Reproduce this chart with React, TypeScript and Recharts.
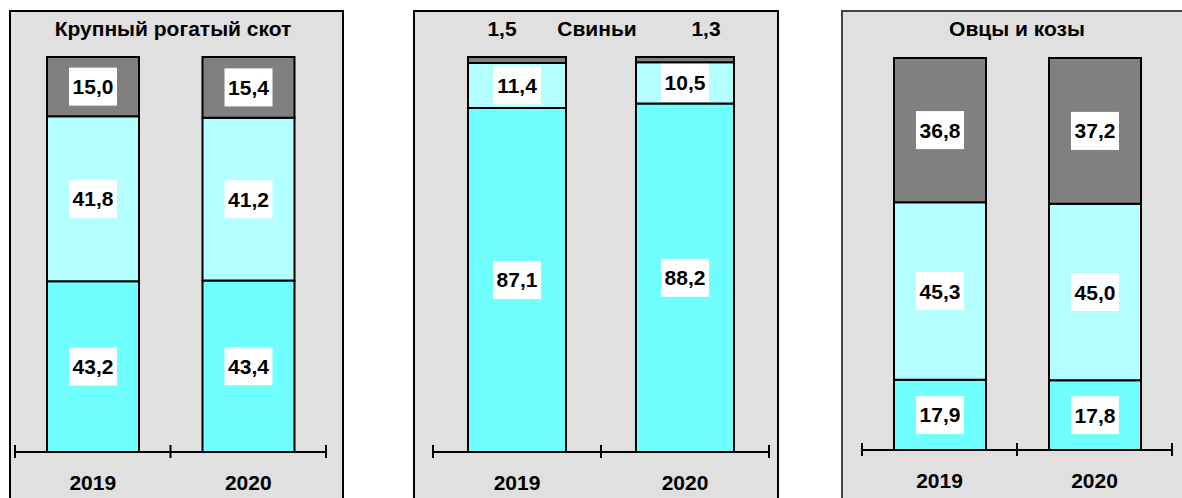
import React from "react";
import { Bar, BarChart, LabelList, XAxis, YAxis } from "recharts";

const years = ["2019", "2020"];

// Крупный рогатый скот
const cattleBottom = [43.2, 43.4];
const cattleMiddle = [41.8, 41.2];
const cattleTop = [15.0, 15.4];

// Свиньи
const pigsBottom = [87.1, 88.2];
const pigsMiddle = [11.4, 10.5];
const pigsTop = [1.5, 1.3];

// Овцы и козы
const sheepBottom = [17.9, 17.8];
const sheepMiddle = [45.3, 45.0];
const sheepTop = [36.8, 37.2];

const FONT = "Arial, 'Liberation Sans', sans-serif";
const FS = 21;
const BG = "#e0e0e0";
const C_BOTTOM = "#70ffff";
const C_MIDDLE = "#b3ffff";
const C_TOP = "#808080";

const fmt = (v: number) => v.toFixed(1).replace(".", ",");

const build = (a: number[], b: number[], c: number[]) =>
  years.map((year, i) => ({ year, bottom: a[i], middle: b[i], top: c[i] }));

const BoxLabel = (props: any) => {
  const { x, y, width, height, value } = props;
  const cx = Number(x) + Number(width) / 2;
  const cy = Number(y) + Number(height) / 2;
  return (
    <g>
      <rect x={cx - 24} y={cy - 19} width={48} height={38} fill="#ffffff" />
      <text
        x={cx}
        y={cy + 7.5}
        textAnchor="middle"
        fontFamily={FONT}
        fontWeight="bold"
        fontSize={FS}
        fill="#000"
      >
        {fmt(value)}
      </text>
    </g>
  );
};

// small top values of the pigs chart sit in the title row
const shifts = [-15, 21];
const TopRowLabel = (props: any) => {
  const { x, width, value, index } = props;
  const cx = Number(x) + Number(width) / 2 + shifts[index];
  return (
    <text
      x={cx}
      y={26}
      textAnchor="middle"
      fontFamily={FONT}
      fontWeight="bold"
      fontSize={FS}
      fill="#000"
    >
      {fmt(value)}
    </text>
  );
};

const makeTick = (half: number) => (props: any) => {
  const { x, y, payload, index } = props;
  const off = payload && payload.offset ? payload.offset : half;
  return (
    <g>
      {index === 0 && (
        <line x1={x - off} x2={x - off} y1={y - 7} y2={y + 6} stroke="#000" strokeWidth={2} />
      )}
      <line x1={x + off} x2={x + off} y1={y - 7} y2={y + 6} stroke="#000" strokeWidth={2} />
      <text
        x={x}
        y={y + 38}
        textAnchor="middle"
        fontFamily={FONT}
        fontWeight="bold"
        fontSize={FS}
        fill="#000"
      >
        {payload.value}
      </text>
    </g>
  );
};

interface PanelProps {
  title: string;
  data: { year: string; bottom: number; middle: number; top: number }[];
  left: number;
  width: number;
  margin: { top: number; right: number; left: number; bottom: number };
  barSize: number;
  border: string;
  rightBorder: boolean;
  titleCenter: number;
  topInTitle?: boolean;
}

const H = 488;

const Panel: React.FC<PanelProps> = (p) => {
  const plotW = p.width - p.margin.left - p.margin.right;
  return (
    <>
      <div
        style={{
          position: "absolute",
          left: p.left,
          top: 10,
          width: p.width,
          height: H + 10,
          boxSizing: "border-box",
          background: BG,
          borderTop: `2px solid ${p.border}`,
          borderLeft: `2px solid ${p.border}`,
          borderRight: p.rightBorder ? `2px solid ${p.border}` : "none",
        }}
      />
      <div
        style={{
          position: "absolute",
          left: p.titleCenter - 150,
          width: 300,
          top: 16,
          textAlign: "center",
          fontFamily: FONT,
          fontWeight: "bold",
          fontSize: FS,
          lineHeight: "26px",
          color: "#000",
        }}
      >
        {p.title}
      </div>
      <div style={{ position: "absolute", left: p.left, top: 10 }}>
        <BarChart width={p.width} height={H} data={p.data} margin={p.margin} barSize={p.barSize}>
          <XAxis
            dataKey="year"
            height={40}
            tickSize={0}
            tickMargin={0}
            axisLine={{ stroke: "#000", strokeWidth: 2 }}
            tickLine={false}
            tick={makeTick(plotW / 4)}
            interval={0}
          />
          <YAxis hide domain={[0, 100]} />
          <Bar dataKey="bottom" stackId="s" fill={C_BOTTOM} stroke="#000" strokeWidth={2} isAnimationActive={false}>
            <LabelList dataKey="bottom" content={BoxLabel} />
          </Bar>
          <Bar dataKey="middle" stackId="s" fill={C_MIDDLE} stroke="#000" strokeWidth={2} isAnimationActive={false}>
            <LabelList dataKey="middle" content={BoxLabel} />
          </Bar>
          <Bar dataKey="top" stackId="s" fill={C_TOP} stroke="#000" strokeWidth={2} isAnimationActive={false}>
            <LabelList dataKey="top" content={p.topInTitle ? TopRowLabel : BoxLabel} />
          </Bar>
        </BarChart>
      </div>
    </>
  );
};

export default function App() {
  return (
    <div
      style={{
        position: "absolute",
        left: 0,
        top: 0,
        width: 1182,
        height: 498,
        overflow: "hidden",
        background: "#ffffff",
      }}
    >
      <Panel
        title="Крупный рогатый скот"
        data={build(cattleBottom, cattleMiddle, cattleTop)}
        left={9}
        width={335}
        margin={{ top: 47, right: 18, left: 6, bottom: 6 }}
        barSize={92}
        border="#000"
        rightBorder
        titleCenter={173}
      />
      <Panel
        title="Свиньи"
        data={build(pigsBottom, pigsMiddle, pigsTop)}
        left={413}
        width={366}
        margin={{ top: 47, right: 10, left: 20, bottom: 6 }}
        barSize={98}
        border="#000"
        rightBorder
        titleCenter={597}
        topInTitle
      />
      <Panel
        title="Овцы и козы"
        data={build(sheepBottom, sheepMiddle, sheepTop)}
        left={841}
        width={341}
        margin={{ top: 48, right: 10, left: 21, bottom: 8 }}
        barSize={92}
        border="#444"
        rightBorder={false}
        titleCenter={1017}
      />
    </div>
  );
}
